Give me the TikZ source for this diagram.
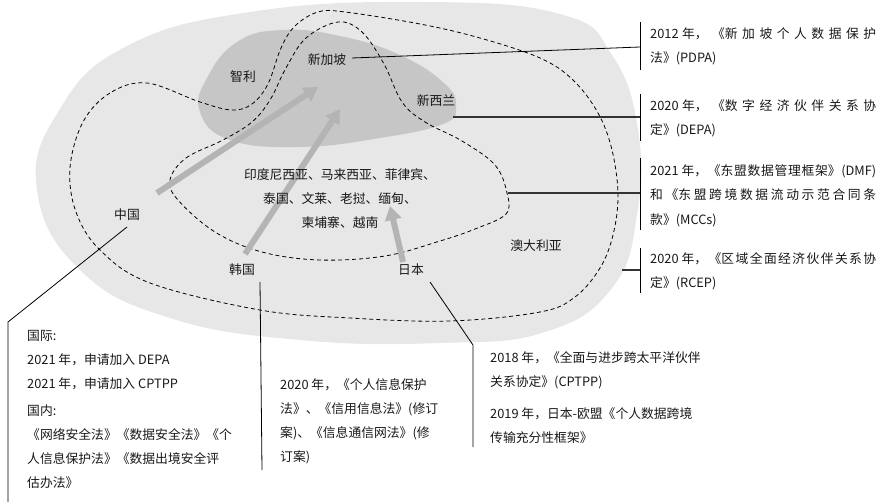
\documentclass[tikz,border=0pt]{standalone}
\usepackage{fontspec}
\setmainfont{Noto Sans CJK SC}
\usetikzlibrary{arrows.meta}
\XeTeXlinebreaklocale "zh"
\XeTeXlinebreakskip=0pt plus 12pt
\definecolor{bgout}{HTML}{E7E7E7}
\definecolor{bgin}{HTML}{C6C6C6}
\definecolor{arrowc}{HTML}{B4B4B4}
\definecolor{txt}{HTML}{181818}
\tikzset{
  lbl/.style={font=\fontsize{12.8}{24}\selectfont, text=txt, inner sep=1pt},
  note/.style={font=\fontsize{12.8}{24}\selectfont, text=txt, align=left, anchor=north west, inner sep=0pt},
  rnote/.style={font=\fontsize{12.8}{24.5}\selectfont, text=txt, text width=226pt, align=justify, anchor=north west, inner sep=0pt},
  bigarrow/.style={line width=6pt, draw=arrowc, -{Triangle[length=14pt,width=16pt]}},
  lead/.style={draw=black, line width=0.8pt},
  leadg/.style={draw=black!80, line width=1.1pt},
  bracket/.style={draw=black, line width=1pt},
  zone/.style={draw=black, line width=0.8pt, dash pattern=on 4pt off 3pt},
}
\begin{document}
\begin{tikzpicture}[x=1pt,y=-1pt]
\useasboundingbox (0,0) rectangle (890,502);
% outer light region
\fill[bgout] plot[smooth cycle, tension=0.75] coordinates {
 (37,190) (58,112) (125,47) (250,12) (420,2) (560,14) (612,55) (638,130)
 (637,215) (612,288) (545,332) (440,343) (300,340) (170,318) (80,270)};
% inner dark region (DEPA)
\fill[bgin] plot[smooth cycle, tension=0.75] coordinates {
 (200,112) (207,78) (237,42) (282,30) (340,36) (400,55) (445,84) (456,107)
 (443,124) (380,138) (300,147) (230,140)};
% RCEP dashed
\draw[zone] plot[smooth cycle, tension=0.6] coordinates {
 (147,83) (110,93) (83,122) (70,168) (76,212) (100,250) (150,283) (260,310)
 (350,318) (450,321) (540,312) (575,297) (600,268) (613,235) (618,195)
 (612,150) (598,113) (573,80) (540,58) (480,38) (420,24) (345,12) (318,12)
 (295,26) (281,48) (268,84) (252,104) (232,110) (200,102)};
% ASEAN dashed
\draw[zone] plot[smooth cycle, tension=0.6] coordinates {
 (170,180) (186,158) (223,140) (252,122) (270,100) (286,68) (306,38)
 (338,22) (362,32) (384,64) (402,102) (425,122) (462,141) (495,165)
 (507,193) (506,214) (475,229) (440,241) (385,256) (320,260) (262,252)
 (215,232) (178,200)};
% arrow anchors
\coordinate (a1s) at (157,193); \coordinate (a1e) at (318,87);
\coordinate (a2s) at (245,254); \coordinate (a2e) at (340,109);
\coordinate (a3s) at (403,262); \coordinate (a3e) at (390,206);
\draw[bigarrow] (a1s) -- (a1e);
\draw[bigarrow] (a2s) -- (a2e);
\draw[bigarrow] (a3s) -- (a3e);
% labels
\node[lbl] (cl) at (243,77) {智利};
\node[lbl] (sg) at (327,60) {新加坡};
\node[lbl] (nz) at (436,101) {新西兰};
\node[lbl, align=center] (asean) at (340,199) {印度尼西亚、马来西亚、菲律宾、\\泰国、文莱、老挝、缅甸、\\柬埔寨、越南};
\node[lbl] (cn) at (127,215) {中国};
\node[lbl] (kr) at (242,270) {韩国};
\node[lbl] (jp) at (411,270) {日本};
\node[lbl] (au) at (536,246) {澳大利亚};
% right-hand notes
\coordinate (b1t) at (640,22);  \coordinate (b1b) at (640,70);  \coordinate (b1m) at (640,47);
\coordinate (b2t) at (640,94);  \coordinate (b2b) at (640,141); \coordinate (b2m) at (640,117);
\coordinate (b3t) at (640,158); \coordinate (b3b) at (640,230); \coordinate (b3m) at (640,193);
\coordinate (b4t) at (640,248); \coordinate (b4b) at (640,293); \coordinate (b4m) at (640,270);
\coordinate (sgL) at (352,58);
\coordinate (nzL) at (453,117);
\coordinate (asL) at (508,193);
\coordinate (auL) at (622,270);
\draw[bracket] (b1t) -- (b1b);
\draw[bracket] (b2t) -- (b2b);
\draw[bracket] (b3t) -- (b3b);
\draw[bracket] (b4t) -- (b4b);
\draw[lead] (sgL) -- (b1m);
\draw[leadg] (nzL) -- (b2m);
\draw[leadg] (asL) -- (b3m);
\draw[leadg] (auL) -- (b4m);
\node[rnote] (tpdpa) at (650,27) {2012 年，《新加坡个人数据保护\linebreak 法》(PDPA)};
\node[rnote] (tdepa) at (650,99) {2020 年，《数字经济伙伴关系协\linebreak 定》(DEPA)};
\node[rnote] (tdmf) at (650,164) {2021 年，《东盟数据管理框架》(DMF)\linebreak 和《东盟跨境数据流动示范合同条\linebreak 款》(MCCs)};
\node[rnote] (trcep) at (650,252) {2020 年，《区域全面经济伙伴关系协\linebreak 定》(RCEP)};
% bottom notes
\coordinate (cnA) at (127,227); \coordinate (cnB) at (8,322); \coordinate (cnC) at (8,502);
\draw[lead] (cnA) -- (cnB) -- (cnC);
\coordinate (krA) at (260,282); \coordinate (krB) at (262,470);
\draw[lead] (krA) -- (krB);
\coordinate (jpA) at (430,282); \coordinate (jpB) at (473,345); \coordinate (jpC) at (473,447);
\draw[lead] (jpA) -- (jpB) -- (jpC);
\node[note] (tcn) at (27,330) {国际:\\2021 年，申请加入 DEPA\\2021 年，申请加入 CPTPP\\[3pt]国内:\\《网络安全法》《数据安全法》《个\\人信息保护法》《数据出境安全评\\估办法》};
\node[note] (tkr) at (280,378) {2020 年，《个人信息保护\\法》、《信用信息法》(修订\\案)、《信息通信网法》(修\\订案)};
\node[note] (tjp) at (490,351) {2018 年，《全面与进步跨太平洋伙伴\\关系协定》(CPTPP)\\[8pt]2019 年，日本-欧盟《个人数据跨境\\传输充分性框架》};
\end{tikzpicture}
\end{document}
